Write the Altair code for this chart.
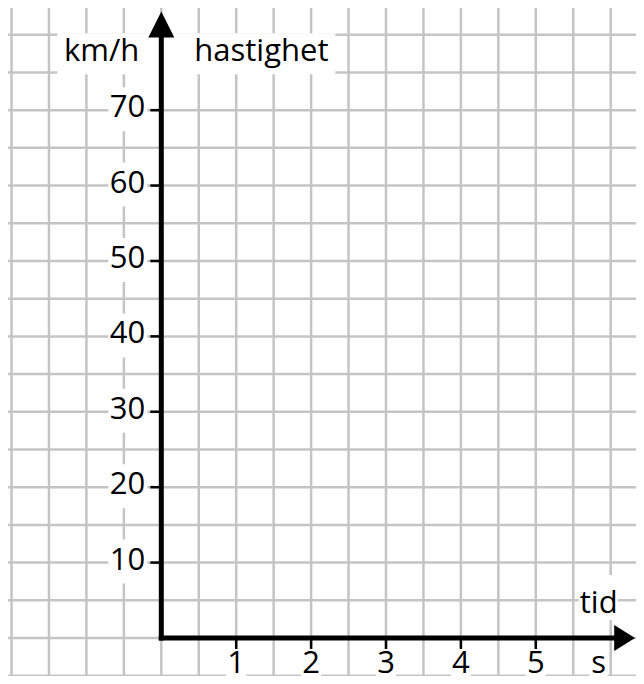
import altair as alt
import pandas as pd

# ---- chart values -------------------------------------------------------
x_ticks = [1, 2, 3, 4, 5]
x_tick_labels = ["1", "2", "3", "4", "5"]
y_ticks = [10, 20, 30, 40, 50, 60, 70]
y_tick_labels = ["10", "20", "30", "40", "50", "60", "70"]

# grid paper lines (every half second / every 5 km/h)
x_grid = [-2.0, -1.5, -1.0, -0.5, 0.0, 0.5, 1.0, 1.5, 2.0, 2.5,
          3.0, 3.5, 4.0, 4.5, 5.0, 5.5, 6.0]
y_grid = [-5, 0, 5, 10, 15, 20, 25, 30, 35, 40, 45, 50, 55, 60,
          65, 70, 75, 80]

x_domain = [-2.047, 6.338]
y_domain = [-5.04, 83.55]

y_axis_end = 80.0     # km/h, where the vertical arrow starts
x_axis_end = 6.1      # s, where the horizontal arrow starts
y_arrow = 81.35
x_arrow = 6.186
y_title_level = 76.5
x_title_pos = 5.84

y_unit = "km/h"
y_name = "hastighet"
x_name = "tid"
x_unit = "s"

# ---- helpers ------------------------------------------------------------
FONT = "Open Sans"
FS = 31
GRID = "#c4c4c4"
xs = alt.Scale(domain=x_domain, nice=False, zero=False)
ys = alt.Scale(domain=y_domain, nice=False, zero=False)


def X(v):
    return alt.XDatum(v, type="quantitative", scale=xs, axis=None)


def Y(v):
    return alt.YDatum(v, type="quantitative", scale=ys, axis=None)


one = pd.DataFrame({"k": [0]})
xtick_df = pd.DataFrame({"v": x_ticks, "lab": x_tick_labels})
ytick_df = pd.DataFrame({"v": y_ticks, "lab": y_tick_labels})

# grid
vgrid = alt.Chart(pd.DataFrame({"gx": x_grid})).mark_rule(
    color=GRID, strokeWidth=2.5).encode(
    x=alt.X("gx:Q", scale=xs, axis=None))
hgrid = alt.Chart(pd.DataFrame({"gy": y_grid})).mark_rule(
    color=GRID, strokeWidth=2.5).encode(
    y=alt.Y("gy:Q", scale=ys, axis=None))

# white label backgrounds
band = alt.Chart(one).mark_rect(
    color="white", xOffset=-104, x2Offset=174, yOffset=-28, y2Offset=13
).encode(x=X(0), x2=alt.X2Datum(0), y=Y(y_title_level),
         y2=alt.Y2Datum(y_title_level))

ybox = alt.Chart(ytick_df).mark_rect(
    color="white", xOffset=-53, x2Offset=-14, yOffset=-23, y2Offset=21
).encode(x=X(0), x2=alt.X2Datum(0),
         y=alt.Y("v:Q", scale=ys, axis=None), y2="v:Q")

xbox = alt.Chart(xtick_df).mark_rect(
    color="white", xOffset=-10, x2Offset=10, yOffset=9, y2Offset=60
).encode(x=alt.X("v:Q", scale=xs, axis=None), x2="v:Q",
         y=Y(0), y2=alt.Y2Datum(0))

sbox = alt.Chart(one).mark_rect(
    color="white", xOffset=-9, x2Offset=9, yOffset=12, y2Offset=60
).encode(x=X(x_title_pos), x2=alt.X2Datum(x_title_pos),
         y=Y(0), y2=alt.Y2Datum(0))

tidbox = alt.Chart(one).mark_rect(
    color="white", xOffset=-20, x2Offset=19, yOffset=-63, y2Offset=-18
).encode(x=X(x_title_pos), x2=alt.X2Datum(x_title_pos),
         y=Y(0), y2=alt.Y2Datum(0))

# axes
yline = alt.Chart(one).mark_rule(
    color="black", strokeWidth=5, strokeCap="square").encode(
    x=X(0), y=Y(0), y2=alt.Y2Datum(y_axis_end))
xline = alt.Chart(one).mark_rule(
    color="black", strokeWidth=5, strokeCap="square").encode(
    y=Y(0), x=X(0), x2=alt.X2Datum(x_axis_end))

yticks = alt.Chart(ytick_df).mark_rule(
    color="black", strokeWidth=2.5, xOffset=-11).encode(
    y=alt.Y("v:Q", scale=ys, axis=None), x=X(0), x2=alt.X2Datum(0))
xticks = alt.Chart(xtick_df).mark_rule(
    color="black", strokeWidth=2.5, y2Offset=11).encode(
    x=alt.X("v:Q", scale=xs, axis=None), y=Y(0), y2=alt.Y2Datum(0))

arrow_up = alt.Chart(one).mark_point(
    shape="M0,-1L1,1L-1,1Z", size=676, filled=True, color="black",
    opacity=1, strokeWidth=0).encode(x=X(0), y=Y(y_arrow))
arrow_right = alt.Chart(one).mark_point(
    shape="M-0.8,-1L0.8,0L-0.8,1Z", size=676, filled=True, color="black",
    opacity=1, strokeWidth=0).encode(x=X(x_arrow), y=Y(0))

# texts
ylabels = alt.Chart(ytick_df).mark_text(
    font=FONT, fontSize=FS, color="black", align="right",
    baseline="alphabetic", dx=-16, dy=7).encode(
    y=alt.Y("v:Q", scale=ys, axis=None), x=X(0), text="lab:N")
xlabels = alt.Chart(xtick_df).mark_text(
    font=FONT, fontSize=FS, color="black", align="center",
    baseline="alphabetic", dy=35).encode(
    x=alt.X("v:Q", scale=xs, axis=None), y=Y(0), text="lab:N")

s_text = alt.Chart(pd.DataFrame({"t": [x_unit]})).mark_text(
    font=FONT, fontSize=FS, color="black", align="center",
    baseline="alphabetic", dy=35).encode(
    x=X(x_title_pos), y=Y(0), text="t:N")
tid_text = alt.Chart(pd.DataFrame({"t": [x_name]})).mark_text(
    font=FONT, fontSize=FS, color="black", align="center",
    baseline="alphabetic", dy=-25).encode(
    x=X(x_title_pos), y=Y(0), text="t:N")
kmh_text = alt.Chart(pd.DataFrame({"t": [y_unit]})).mark_text(
    font=FONT, fontSize=FS, color="black", align="right",
    baseline="alphabetic", dx=-22).encode(
    x=X(0), y=Y(y_title_level), text="t:N")
hast_text = alt.Chart(pd.DataFrame({"t": [y_name]})).mark_text(
    font=FONT, fontSize=FS, color="black", align="left",
    baseline="alphabetic", dx=33).encode(
    x=X(0), y=Y(y_title_level), text="t:N")

chart = alt.layer(
    vgrid, hgrid, band, ybox, xbox, sbox, tidbox,
    yline, xline, yticks, xticks, arrow_up, arrow_right,
    ylabels, xlabels, s_text, tid_text, kmh_text, hast_text,
).properties(
    width=628, height=668, padding=0,
    autosize=alt.AutoSizeParams(type="none"),
    background="white",
).configure_view(stroke=None)

chart.save("out.html", embed_options={"renderer": "svg", "actions": False})
